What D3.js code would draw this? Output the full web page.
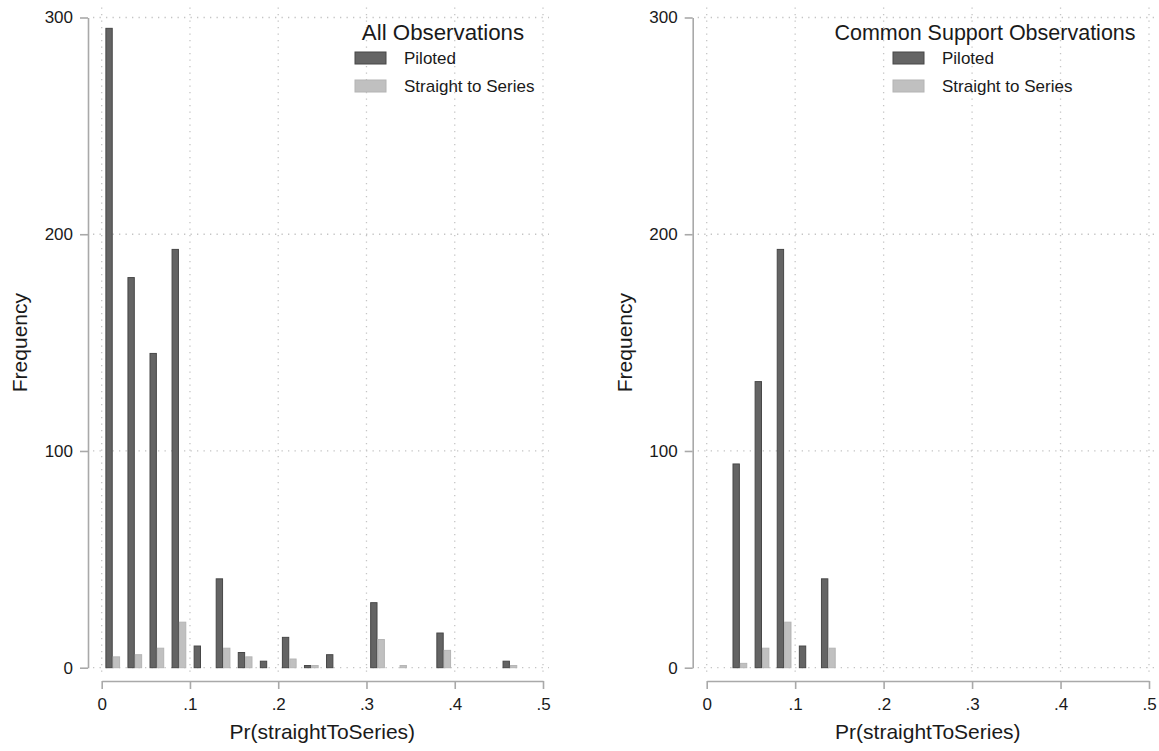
<!DOCTYPE html>
<html lang="en">
<head>
<meta charset="UTF-8">
<script src="https://d3js.org/d3.v7.min.js"></script>
<title>Histograms</title>
<style>
    body { margin: 0; background: #fff; }
    svg text { font-family: "Liberation Sans", Arial, sans-serif; fill: #1a1a1a; }
    .axis path, .axis line { stroke: #a9a9a9; stroke-width: 1.6px; }
    .grid line { stroke: #c4c4c4; stroke-width: 1.3px; stroke-dasharray: 1.3,5.2; }
</style>
</head>
<body>
<script>
    // bin left edges (width .025)
    var binStarts = [0, 0.025, 0.05, 0.075, 0.1, 0.125, 0.15, 0.175, 0.2, 0.225,
                     0.25, 0.275, 0.3, 0.325, 0.35, 0.375, 0.4, 0.425, 0.45, 0.475];
    var binWidth = 0.025;

    // all observations
    var allPiloted  = [295, 180, 145, 193, 10, 41, 7, 3, 14, 1, 6, 0, 30, 0, 0, 16, 0, 0, 3, 0];
    var allStraight = [5, 6, 9, 21, 0, 9, 5, 0, 4, 1, 0, 0, 13, 1, 0, 8, 0, 0, 1, 0];

    // common support observations
    var csPiloted  = [0, 94, 132, 193, 10, 41, 0, 0, 0, 0, 0, 0, 0, 0, 0, 0, 0, 0, 0, 0];
    var csStraight = [0, 2, 9, 21, 0, 9, 0, 0, 0, 0, 0, 0, 0, 0, 0, 0, 0, 0, 0, 0];

    var xTicks = [0, 0.1, 0.2, 0.3, 0.4, 0.5];
    var yTicks = [0, 100, 200, 300];
    var seriesNames = ["Piloted", "Straight to Series"];
    var colors = ["#646464", "#c0c0c0"];
    var strokes = ["#474747", "#b4b4b4"];

    var width = 1159, height = 751;
    var svg = d3.select("body").append("svg")
        .attr("width", width)
        .attr("height", height);

    var yTop = 17.5, yBottom = 667.7;

    function panel(opts) {
        var x = d3.scaleLinear().domain([0, 0.5]).range([opts.x0, opts.x1]);
        var y = d3.scaleLinear().domain([0, 300]).range([yBottom, yTop]);
        var g = svg.append("g");

        // grid
        var grid = g.append("g").attr("class", "grid");
        grid.selectAll(".hg").data(yTicks).enter().append("line")
            .attr("x1", opts.yAxisX + 5).attr("x2", opts.x1 + 6)
            .attr("y1", d => y(d)).attr("y2", d => y(d));
        grid.selectAll(".vg").data(xTicks).enter().append("line")
            .attr("x1", d => x(d)).attr("x2", d => x(d))
            .attr("y1", yTop - 10).attr("y2", yBottom + 6);

        // bars
        var bw = binWidth / 3;
        var data = [opts.piloted, opts.straight];
        data.forEach(function (vals, si) {
            g.append("g").selectAll("rect")
                .data(binStarts.map((b, i) => ({ b: b, v: vals[i] })).filter(d => d.v > 0))
                .enter().append("rect")
                .attr("x", d => x(d.b + binWidth / 2 + (si - 1) * bw) + 0.5)
                .attr("width", d => x(bw) - x(0) - 1)
                .attr("y", d => y(d.v))
                .attr("height", d => y(0) - y(d.v))
                .attr("fill", colors[si])
                .attr("stroke", strokes[si])
                .attr("stroke-width", 1);
        });

        // y axis
        var yAxis = d3.axisLeft(y).tickValues(yTicks).tickSize(8).tickSizeOuter(0).tickPadding(7);
        var ya = g.append("g").attr("class", "axis")
            .attr("transform", "translate(" + opts.yAxisX + ",0)")
            .call(yAxis);
        ya.selectAll("text").style("font-size", "17px");

        // x axis
        var xAxis = d3.axisBottom(x).tickValues(xTicks).tickSize(8).tickSizeOuter(0).tickPadding(9)
            .tickFormat(d => d === 0 ? "0" : d3.format(".1f")(d).replace(/^0/, ""));
        var xa = g.append("g").attr("class", "axis")
            .attr("transform", "translate(0,681)")
            .call(xAxis);
        xa.selectAll("text").style("font-size", "17px");

        // axis titles
        g.append("text")
            .attr("text-anchor", "middle")
            .attr("x", (opts.x0 + opts.x1) / 2).attr("y", 739)
            .style("font-size", "21px")
            .text("Pr(straightToSeries)");
        g.append("text")
            .attr("text-anchor", "middle")
            .attr("transform", "translate(" + (opts.yAxisX - 61) + "," + ((yTop + yBottom) / 2) + ") rotate(-90)")
            .style("font-size", "21px")
            .text("Frequency");

        // legend
        g.append("text")
            .attr("text-anchor", "middle")
            .attr("x", opts.titleX).attr("y", 39.5)
            .style("font-size", opts.titleSize)
            .text(opts.title);
        seriesNames.forEach(function (name, i) {
            g.append("rect")
                .attr("x", opts.keyX).attr("y", 52 + i * 28)
                .attr("width", 31).attr("height", 12)
                .attr("fill", colors[i]).attr("stroke", strokes[i]);
            g.append("text")
                .attr("x", opts.keyX + 49).attr("y", 64 + i * 28)
                .style("font-size", "17px")
                .text(name);
        });
    }

    panel({ x0: 101.7, x1: 543, yAxisX: 88, piloted: allPiloted, straight: allStraight,
            title: "All Observations", titleX: 443, keyX: 355, titleSize: "22.3px" });
    panel({ x0: 706.7, x1: 1149, yAxisX: 692.7, piloted: csPiloted, straight: csStraight,
            title: "Common Support Observations", titleX: 985, keyX: 893, titleSize: "21.5px" });
</script>
</body>
</html>
